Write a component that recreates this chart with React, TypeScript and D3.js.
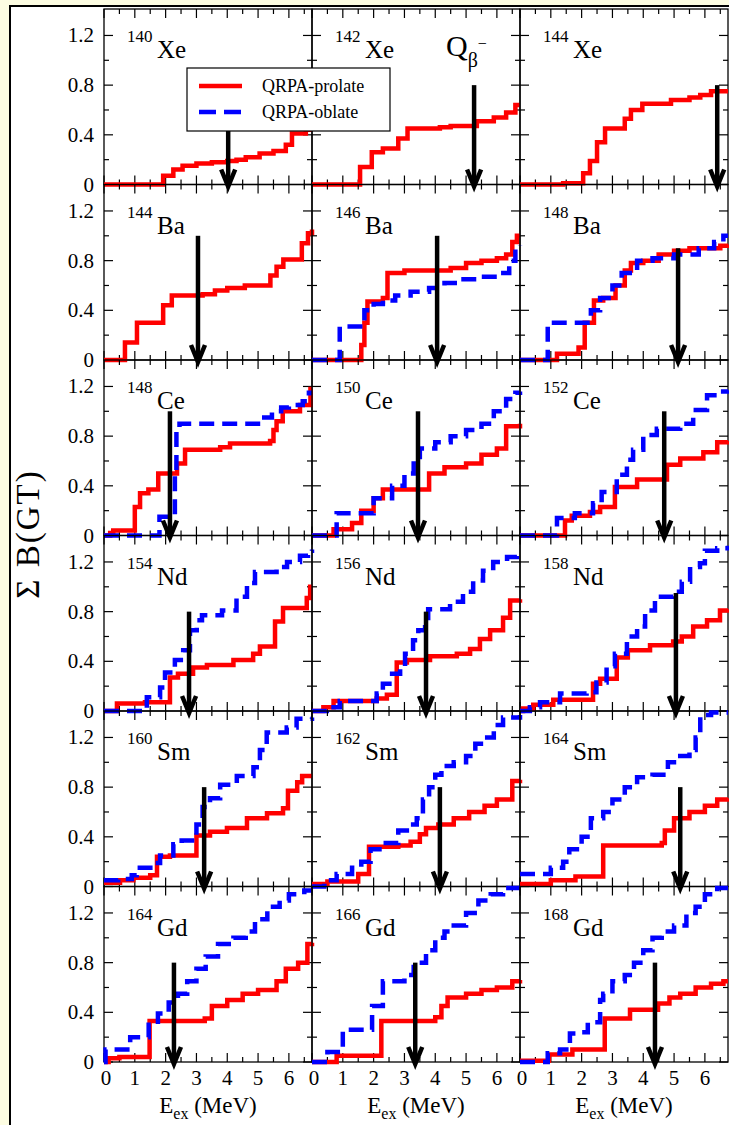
import React from 'react';
import * as d3 from 'd3';

type Pt = [number, number];

// ---- data ----
const massNumbers = ['140', '142', '144', '144', '146', '148', '148', '150', '152', '154', '156', '158', '160', '162', '164', '164', '166', '168'];
const elements = ['Xe', 'Xe', 'Xe', 'Ba', 'Ba', 'Ba', 'Ce', 'Ce', 'Ce', 'Nd', 'Nd', 'Nd', 'Sm', 'Sm', 'Sm', 'Gd', 'Gd', 'Gd'];
const qValues = [4.03, 5.26, 6.4, 3.05, 4.06, 5.13, 2.14, 3.44, 4.68, 2.76, 3.7, 5.06, 3.25, 4.15, 5.2, 2.27, 3.35, 4.38];
const arrowTops = [0.8, 0.8, 0.8, 1.0, 1.0, 0.9, 1.0, 1.0, 1.0, 0.8, 0.8, 0.95, 0.8, 0.8, 0.8, 0.8, 0.8, 0.8];
const xMajorTicks = [0, 1, 2, 3, 4, 5, 6];
const xMinorTicks = [0.5, 1.5, 2.5, 3.5, 4.5, 5.5, 6.5];
const yMajorTicks = [0, 0.4, 0.8, 1.2];
const yTickLabels = ['0', '0.4', '0.8', '1.2'];
const yMinorTicks = [0.2, 0.6, 1.0];

const prolate140Xe: Pt[] = [[0,0],[1.92,0.07],[2.25,0.12],[2.55,0.15],[3.0,0.17],[3.5,0.18],[4.0,0.19],[4.3,0.2],[4.6,0.22],[5.05,0.25],[5.5,0.27],[5.9,0.32],[6.1,0.41],[6.55,0.44],[6.75,0.44]];
const prolate142Xe: Pt[] = [[0,0],[1.56,0.14],[1.94,0.26],[2.3,0.29],[2.8,0.37],[3.1,0.45],[4.15,0.46],[4.5,0.47],[5.35,0.51],[5.9,0.54],[6.3,0.58],[6.6,0.64],[6.75,0.64]];
const prolate144Xe: Pt[] = [[0,0],[1.4,0.01],[2.05,0.09],[2.27,0.19],[2.5,0.34],[2.76,0.45],[3.4,0.53],[3.6,0.6],[3.97,0.65],[4.9,0.68],[5.5,0.7],[5.85,0.72],[6.2,0.75],[6.75,0.75]];
const prolate144Ba: Pt[] = [[0,0],[0.68,0.14],[1.07,0.3],[1.92,0.44],[2.2,0.52],[3.2,0.53],[3.6,0.56],[4.0,0.58],[4.57,0.6],[5.4,0.68],[5.6,0.75],[5.82,0.81],[6.42,0.94],[6.62,1.02],[6.75,1.05]];
const prolate146Ba: Pt[] = [[0,0],[1.6,0.12],[1.7,0.3],[1.8,0.47],[2.3,0.5],[2.45,0.7],[3.0,0.72],[4.5,0.74],[5.0,0.78],[5.5,0.8],[6.0,0.82],[6.3,0.85],[6.5,0.95],[6.65,1.0],[6.75,1.0]];
const oblate146Ba: Pt[] = [[0,0],[0.9,0.27],[1.7,0.4],[2.0,0.45],[2.3,0.48],[2.7,0.52],[3.2,0.55],[3.8,0.58],[4.3,0.62],[4.8,0.65],[5.5,0.67],[6.0,0.7],[6.4,0.8],[6.6,0.9],[6.75,0.92]];
const prolate148Ba: Pt[] = [[0,0],[1.2,0.05],[1.9,0.1],[2.1,0.3],[2.4,0.48],[2.7,0.5],[3.1,0.6],[3.4,0.72],[3.6,0.78],[4.0,0.8],[4.5,0.85],[5.0,0.88],[5.5,0.9],[6.5,0.92],[6.75,0.93]];
const oblate148Ba: Pt[] = [[0,0],[0.9,0.3],[2.0,0.3],[2.3,0.4],[2.6,0.5],[3.0,0.6],[3.3,0.7],[3.8,0.8],[4.3,0.82],[5.0,0.85],[5.8,0.9],[6.3,0.95],[6.6,1.0],[6.75,1.0]];
const prolate148Ce: Pt[] = [[0,0],[0.2,0.02],[0.3,0.04],[1.0,0.23],[1.17,0.34],[1.44,0.37],[1.76,0.5],[2.37,0.58],[2.63,0.69],[3.77,0.71],[4.09,0.74],[5.39,0.76],[5.5,0.85],[5.6,0.92],[5.8,1.0],[6.36,1.05],[6.7,1.18],[6.75,1.18]];
const oblate148Ce: Pt[] = [[0,0],[1.8,0.15],[2.3,0.5],[2.35,0.85],[2.45,0.9],[5.2,0.95],[5.45,1.0],[5.75,1.03],[6.0,1.05],[6.45,1.08],[6.65,1.15],[6.75,1.15]];
const prolate150Ce: Pt[] = [[0,0],[0.7,0.05],[1.3,0.1],[1.6,0.2],[2.0,0.3],[2.3,0.37],[3.8,0.5],[4.3,0.55],[5.0,0.58],[5.5,0.65],[6.0,0.7],[6.3,0.88],[6.75,0.9]];
const oblate150Ce: Pt[] = [[0,0],[0.8,0.18],[2.0,0.3],[2.6,0.4],[3.0,0.5],[3.3,0.6],[3.5,0.7],[4.0,0.75],[4.5,0.8],[5.0,0.85],[5.5,0.9],[5.9,1.0],[6.3,1.1],[6.6,1.15],[6.75,1.16]];
const prolate152Ce: Pt[] = [[0,0],[1.46,0.12],[1.68,0.16],[2.27,0.19],[2.6,0.23],[3.08,0.39],[3.8,0.45],[4.77,0.57],[5.2,0.62],[5.95,0.67],[6.4,0.75],[6.75,0.76]];
const oblate152Ce: Pt[] = [[0,0],[1.2,0.14],[1.78,0.18],[2.37,0.26],[2.65,0.35],[3.14,0.49],[3.47,0.61],[3.67,0.69],[4.0,0.81],[4.44,0.86],[5.2,0.9],[5.62,1.01],[6.07,1.13],[6.5,1.16],[6.75,1.17]];
const prolate154Nd: Pt[] = [[0,0],[0.42,0.06],[1.33,0.07],[2.14,0.27],[2.4,0.3],[2.89,0.35],[3.34,0.37],[4.2,0.41],[4.84,0.46],[5.06,0.52],[5.55,0.72],[5.81,0.83],[6.58,0.91],[6.69,1.0],[6.75,1.0]];
const oblate154Nd: Pt[] = [[0,0],[1.39,0.11],[1.82,0.19],[1.98,0.31],[2.3,0.41],[2.57,0.49],[2.79,0.65],[3.01,0.73],[3.18,0.77],[3.83,0.81],[4.3,0.92],[4.64,1.03],[4.9,1.12],[5.6,1.16],[5.94,1.2],[6.36,1.25],[6.62,1.29],[6.75,1.3]];
const prolate156Nd: Pt[] = [[0,0],[0.37,0.03],[0.7,0.08],[2.1,0.1],[2.43,0.13],[2.75,0.39],[3.08,0.41],[3.83,0.44],[4.7,0.46],[5.13,0.5],[5.45,0.58],[5.78,0.65],[6.2,0.75],[6.43,0.89],[6.75,0.9]];
const oblate156Nd: Pt[] = [[0,0],[0.48,0.03],[0.9,0.08],[2.1,0.14],[2.3,0.22],[2.6,0.3],[2.86,0.35],[3.02,0.46],[3.28,0.57],[3.45,0.65],[3.67,0.73],[3.77,0.82],[4.48,0.88],[4.9,0.96],[5.23,1.05],[5.55,1.13],[5.88,1.2],[6.33,1.24],[6.65,1.26],[6.75,1.27]];
const prolate158Nd: Pt[] = [[0,0],[0.1,0.02],[0.43,0.05],[1.08,0.09],[2.37,0.22],[2.6,0.26],[3.14,0.43],[3.5,0.49],[4.22,0.53],[4.97,0.56],[5.25,0.6],[5.62,0.68],[6.07,0.73],[6.49,0.81],[6.75,0.82]];
const oblate158Nd: Pt[] = [[0,0],[0.32,0.03],[0.65,0.07],[1.3,0.14],[2.16,0.15],[2.48,0.23],[2.81,0.36],[3.08,0.46],[3.47,0.6],[3.8,0.68],[4.06,0.81],[4.38,0.92],[4.97,0.96],[5.25,1.04],[5.52,1.16],[5.84,1.19],[6.0,1.29],[6.4,1.31],[6.75,1.33]];
const prolate160Sm: Pt[] = [[0,0.03],[0.52,0.05],[0.95,0.07],[1.5,0.09],[1.72,0.24],[2.14,0.25],[3.0,0.41],[3.44,0.44],[3.99,0.47],[4.64,0.55],[5.29,0.59],[5.81,0.63],[5.97,0.77],[6.27,0.84],[6.43,0.89],[6.75,0.89]];
const oblate160Sm: Pt[] = [[0,0.05],[0.46,0.06],[0.9,0.09],[1.06,0.15],[1.65,0.19],[1.82,0.25],[2.25,0.34],[2.52,0.37],[3.0,0.5],[3.2,0.64],[3.44,0.71],[3.77,0.82],[4.31,0.89],[4.85,0.96],[5.06,1.1],[5.28,1.24],[5.93,1.28],[6.25,1.35],[6.75,1.36]];
const prolate162Sm: Pt[] = [[0,0.02],[0.5,0.04],[1.5,0.1],[1.85,0.32],[2.8,0.33],[3.2,0.36],[3.5,0.42],[3.7,0.47],[4.1,0.5],[4.6,0.55],[5.1,0.6],[5.6,0.65],[6.0,0.7],[6.5,0.85],[6.75,0.86]];
const oblate162Sm: Pt[] = [[0,0],[0.4,0.05],[0.8,0.1],[1.3,0.15],[1.6,0.2],[1.9,0.3],[2.3,0.35],[2.8,0.45],[3.2,0.5],[3.4,0.55],[3.6,0.7],[3.8,0.8],[4.0,0.9],[4.2,0.97],[4.6,1.0],[5.0,1.05],[5.3,1.15],[5.6,1.2],[5.9,1.3],[6.2,1.36],[6.75,1.38]];
const prolate164Sm: Pt[] = [[0,0.02],[1.0,0.05],[1.8,0.08],[2.7,0.33],[4.6,0.35],[4.7,0.45],[5.0,0.55],[5.5,0.6],[6.0,0.65],[6.4,0.7],[6.75,0.71]];
const oblate164Sm: Pt[] = [[0,0.1],[1.0,0.15],[1.4,0.2],[1.6,0.3],[2.0,0.4],[2.3,0.55],[2.7,0.6],[3.0,0.7],[3.4,0.8],[3.8,0.88],[4.3,0.9],[4.8,1.0],[5.2,1.05],[5.5,1.1],[5.7,1.2],[5.85,1.38],[6.2,1.4],[6.75,1.4]];
const prolate164Gd: Pt[] = [[0,0],[0.15,0.03],[0.5,0.04],[1.48,0.33],[3.27,0.35],[3.5,0.45],[4.0,0.5],[4.5,0.55],[5.0,0.58],[5.6,0.65],[5.9,0.75],[6.3,0.8],[6.6,0.95],[6.75,0.96]];
const oblate164Gd: Pt[] = [[0,0],[0.05,0.1],[0.5,0.1],[0.85,0.2],[1.45,0.3],[1.75,0.39],[2.1,0.48],[2.4,0.55],[2.7,0.65],[3.0,0.75],[3.3,0.85],[3.7,0.95],[4.2,1.0],[4.6,1.05],[4.9,1.15],[5.3,1.25],[5.7,1.3],[6.0,1.35],[6.5,1.38],[6.75,1.38]];
const prolate166Gd: Pt[] = [[0,0],[0.8,0.05],[2.25,0.33],[4.0,0.36],[4.2,0.45],[4.4,0.52],[5.0,0.55],[5.5,0.58],[6.0,0.6],[6.5,0.65],[6.75,0.66]];
const oblate166Gd: Pt[] = [[0,0],[0.5,0.08],[1.0,0.26],[1.7,0.26],[1.95,0.45],[2.3,0.65],[3.0,0.7],[3.3,0.8],[3.7,0.9],[4.0,1.0],[4.3,1.05],[4.6,1.1],[5.0,1.2],[5.4,1.3],[5.8,1.35],[6.2,1.4],[6.75,1.4]];
const prolate168Gd: Pt[] = [[0,0.01],[0.94,0.06],[1.7,0.1],[2.75,0.35],[3.57,0.42],[4.48,0.47],[4.85,0.52],[5.2,0.55],[5.7,0.6],[6.2,0.63],[6.6,0.65],[6.75,0.65]];
const oblate168Gd: Pt[] = [[0,0],[0.9,0.07],[1.3,0.1],[1.62,0.23],[2.0,0.24],[2.2,0.32],[2.6,0.5],[2.7,0.55],[3.0,0.65],[3.4,0.7],[3.7,0.8],[4.0,0.9],[4.3,1.0],[4.6,1.05],[5.0,1.1],[5.4,1.2],[5.7,1.25],[6.0,1.35],[6.4,1.4],[6.75,1.4]];

const prolateSeries: (Pt[] | null)[] = [prolate140Xe, prolate142Xe, prolate144Xe, prolate144Ba, prolate146Ba, prolate148Ba, prolate148Ce, prolate150Ce, prolate152Ce, prolate154Nd, prolate156Nd, prolate158Nd, prolate160Sm, prolate162Sm, prolate164Sm, prolate164Gd, prolate166Gd, prolate168Gd];
const oblateSeries: (Pt[] | null)[] = [null, null, null, null, oblate146Ba, oblate148Ba, oblate148Ce, oblate150Ce, oblate152Ce, oblate154Nd, oblate156Nd, oblate158Nd, oblate160Sm, oblate162Sm, oblate164Sm, oblate164Gd, oblate166Gd, oblate168Gd];
const legendLabels = ['QRPA-prolate', 'QRPA-oblate'];

// ---- layout ----
const W = 729, H = 1125;
const colLeft = [104, 312, 520];
const panelW = 208;
const top0 = 9;
const panelH = 175.5;
const xMax = 6.75;
const yMax = 1.413;
const RED = '#ff0000', BLUE = '#0000ff';
const FONT = 'Liberation Serif, DejaVu Serif, Times, serif';
const ts = (size: number): React.CSSProperties => ({ fontFamily: FONT, fontSize: size + 'px' });

function Arrow({ x, y0, y1 }: { x: number; y0: number; y1: number }) {
  return (
    <g stroke="#000" fill="none" strokeWidth={4.5}>
      <line x1={x} x2={x} y1={y1} y2={y0 - 1} />
      <path d={`M${x - 7},${y0 - 15} L${x},${y0 + 2} L${x + 7},${y0 - 15}`} strokeLinejoin="miter" />
    </g>
  );
}

function Panel({ i }: { i: number }) {
  const row = Math.floor(i / 3), col = i % 3;
  const left = colLeft[col], right = left + panelW;
  const top = top0 + row * panelH, bottom = top + panelH;
  const x = d3.scaleLinear().domain([0, xMax]).range([left, right]);
  const y = d3.scaleLinear().domain([0, yMax]).range([bottom, top]);
  const line = d3.line<Pt>().x(d => x(d[0])).y(d => y(d[1])).curve(d3.curveStepAfter);
  const pro = prolateSeries[i], obl = oblateSeries[i];
  const tickEls: React.ReactNode[] = [];
  xMajorTicks.forEach((t, k) => {
    tickEls.push(<line key={'xb' + k} x1={x(t)} x2={x(t)} y1={bottom} y2={bottom - 9} />);
    tickEls.push(<line key={'xt' + k} x1={x(t)} x2={x(t)} y1={top} y2={top + 9} />);
  });
  xMinorTicks.forEach((t, k) => {
    tickEls.push(<line key={'xbm' + k} x1={x(t)} x2={x(t)} y1={bottom} y2={bottom - 5} />);
    tickEls.push(<line key={'xtm' + k} x1={x(t)} x2={x(t)} y1={top} y2={top + 5} />);
  });
  yMajorTicks.forEach((t, k) => {
    tickEls.push(<line key={'yl' + k} x1={left} x2={left + 9} y1={y(t)} y2={y(t)} />);
    tickEls.push(<line key={'yr' + k} x1={right} x2={right - 9} y1={y(t)} y2={y(t)} />);
  });
  yMinorTicks.forEach((t, k) => {
    tickEls.push(<line key={'ylm' + k} x1={left} x2={left + 5} y1={y(t)} y2={y(t)} />);
    tickEls.push(<line key={'yrm' + k} x1={right} x2={right - 5} y1={y(t)} y2={y(t)} />);
  });
  return (
    <g>
      <rect x={left} y={top} width={panelW} height={panelH} fill="none" stroke="#000" strokeWidth={1.3} />
      <g stroke="#000" strokeWidth={1.2}>{tickEls}</g>
      {pro && <path d={line(pro) || ''} fill="none" stroke={RED} strokeWidth={4.5} />}
      {obl && <path d={line(obl) || ''} fill="none" stroke={BLUE} strokeWidth={4.5} strokeDasharray="15 8" />}
      <Arrow x={x(qValues[i])} y0={bottom} y1={y(arrowTops[i])} />
      <text x={left + 23} y={top + 33} style={ts(17)}>{massNumbers[i]}</text>
      <text x={left + 53} y={top + 49} style={ts(25)}>{elements[i]}</text>
      {col === 0 && yMajorTicks.map((t, k) => (
        <text key={k} x={94} y={y(t) + 7} textAnchor="end" style={ts(21)}>{yTickLabels[k]}</text>
      ))}
      {row === 5 && xMajorTicks.map((t, k) => (
        <text key={k} x={x(t) + (t === 0 ? 2 : 0)} y={bottom + 23} textAnchor="middle" style={ts(21)}>{String(t)}</text>
      ))}
      {row === 5 && (
        <text x={(left + right) / 2} y={bottom + 51} textAnchor="middle" style={ts(23)}>
          E<tspan style={ts(16)} dy={6}>ex</tspan><tspan dy={-6}> (MeV)</tspan>
        </text>
      )}
    </g>
  );
}

export default function App() {
  const panels = d3.range(18);
  return (
    <div style={{ position: 'absolute', left: 0, top: 0 }}>
      <svg width={W} height={H} style={{ display: 'block' }}>
        <rect x={0} y={0} width={W} height={H} fill="#fdfde2" />
        <rect x={11} y={7} width={W - 11} height={H - 7} fill="#fff" />
        <line x1={10} x2={10} y1={5} y2={H} stroke="#000" strokeWidth={2} />
        <line x1={10} x2={W} y1={6} y2={6} stroke="#000" strokeWidth={2} />
        {panels.map(i => <Panel key={i} i={i} />)}
        {/* legend */}
        <g>
          <rect x={187} y={68} width={203} height={63} fill="#fff" stroke="#000" strokeWidth={1.2} />
          <line x1={199} x2={242} y1={86} y2={86} stroke={RED} strokeWidth={4.5} />
          <line x1={199} x2={242} y1={112} y2={112} stroke={BLUE} strokeWidth={4.5} strokeDasharray="17 8" />
          <text x={262} y={92} style={ts(18)}>{legendLabels[0]}</text>
          <text x={262} y={118} style={ts(18)}>{legendLabels[1]}</text>
        </g>
        {/* Q beta label */}
        <text x={446} y={56} style={ts(30)}>Q<tspan style={ts(20)} dy={11}>β</tspan><tspan style={ts(16)} dy={-18}>−</tspan></text>
        {/* y axis label */}
        <text transform={`translate(39, 534) rotate(-90)`} textAnchor="middle" style={{ ...ts(33), letterSpacing: '2px' }}>Σ B(GT)</text>
      </svg>
    </div>
  );
}
